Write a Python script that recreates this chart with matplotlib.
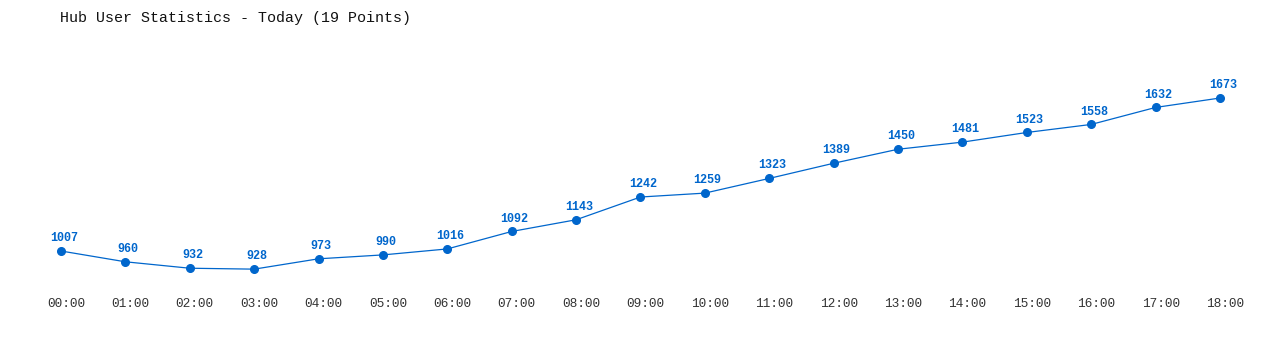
import matplotlib
matplotlib.use("Agg")
import matplotlib.pyplot as plt
import matplotlib.transforms as mtransforms

# hourly hub users, today
hours = ["00:00", "01:00", "02:00", "03:00", "04:00", "05:00", "06:00",
         "07:00", "08:00", "09:00", "10:00", "11:00", "12:00", "13:00",
         "14:00", "15:00", "16:00", "17:00", "18:00"]
users = [1007, 960, 932, 928, 973, 990, 1016, 1092, 1143, 1242, 1259,
         1323, 1389, 1450, 1481, 1523, 1558, 1632, 1673]

blue = "#0066cc"
mono = "Liberation Mono"

fig = plt.figure(figsize=(12.8, 3.5), dpi=100)
ax = fig.add_axes([0, 60 / 350, 1, 250 / 350])

x = list(range(len(users)))
ax.plot(x, users, color=blue, lw=0.9, marker="o", ms=5.5, mec=blue, mfc=blue)
for i, v in zip(x, users):
    ax.annotate(str(v), xy=(i, v), xytext=(2, 9.3), textcoords="offset points",
                ha="center", va="center", color=blue, fontsize=8.5,
                fontweight="bold", family=mono)

ax.set_xlim(-0.947, 18.932)
ax.set_ylim(837.2, 1925.6)
ax.set_xticks(x)
ax.set_xticklabels(hours, family=mono, fontsize=9.2, color="#333333")
ax.tick_params(axis="x", length=0, pad=6)
# labels sit a few pixels right of the points
shift = mtransforms.ScaledTranslation(5 / 100, 0, fig.dpi_scale_trans)
for lbl in ax.get_xticklabels():
    lbl.set_transform(lbl.get_transform() + shift)
ax.set_yticks([])
for s in ax.spines.values():
    s.set_visible(False)

fig.text(60 / 1280, 1 - 18 / 350, "Hub User Statistics - Today (19 Points)",
         family=mono, fontsize=10.8, va="center", ha="left", color="#111111")

fig.savefig("out.png", dpi=100)
